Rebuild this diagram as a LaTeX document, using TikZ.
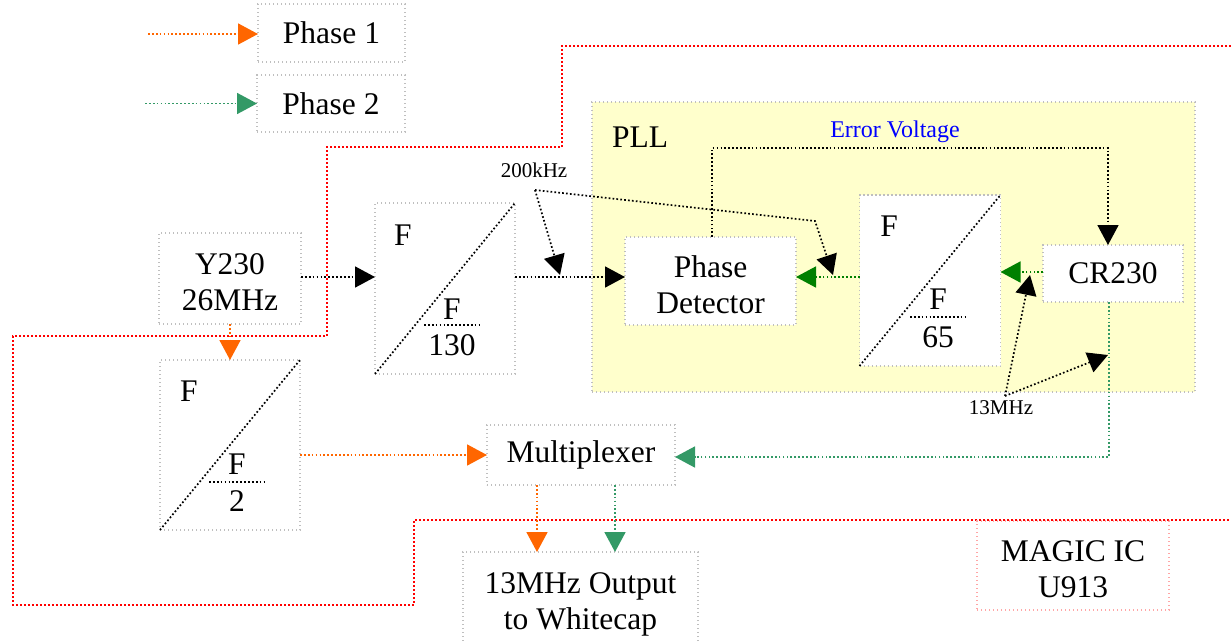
\documentclass[tikz,border=0pt]{standalone}
\usepackage{fontspec}
\setmainfont{Liberation Serif}
\usetikzlibrary{arrows.meta}
\definecolor{orng}{HTML}{FF6600}
\definecolor{sgrn}{HTML}{339966}
\definecolor{dgrn}{HTML}{008000}
\definecolor{pllyel}{HTML}{FFFFCC}
\definecolor{evblue}{HTML}{0000FF}
\newcommand{\mainfs}{\fontsize{31.5}{36}\selectfont}
\begin{document}
\begin{tikzpicture}[x=1pt,y=-1pt,
 every node/.style={inner sep=0pt, outer sep=0pt},
 box/.style={draw=gray!50, line width=1.3pt, dash pattern=on 1.3pt off 2.7pt, align=center, font=\mainfs},
 wbox/.style={box, fill=white},
 intext/.style={font=\mainfs, align=center, yshift=-3.5pt},
 conn/.style={line width=1.7pt, dash pattern=on 1.7pt off 2.2pt},
 tip/.style={-{Triangle[length=20pt,width=21pt]}},
 blkarrow/.style={conn, black, tip},
 orarrow/.style={conn, orng, tip},
 sgarrow/.style={conn, sgrn, tip},
 dgarrow/.style={conn, dgrn, tip},
 redline/.style={red, line width=2pt, dash pattern=on 2pt off 2pt},
 lbl/.style={font=\mainfs},
 small/.style={font=\fontsize{21}{24}\selectfont},
]
\useasboundingbox (0,0) rectangle (1231,643);

% chip boundary
\draw[redline] (1231,46) -- (562,46) -- (562,147) -- (327,147) -- (327,336) -- (13,336) -- (13,605) -- (414,605) -- (414,520) -- (1231,520);

% PLL area
\node[draw=gray!50, fill=pllyel, line width=1.3pt, dash pattern=on 1.3pt off 2.7pt, minimum width=603pt, minimum height=290pt] (pll) at (893.5,247) {};
\node[lbl] (plllbl) at (640,137) {PLL};
\node[font=\fontsize{24}{28}\selectfont, text=evblue] (evlbl) at (895,132) {Error Voltage};

% legend
\node[box, minimum width=147pt, minimum height=58pt] (ph1) at (331.5,33) {Phase 1};
\node[box, minimum width=148pt, minimum height=57pt] (ph2) at (331,103.5) {Phase 2};
\coordinate (l1) at (148,34);
\coordinate (l2) at (145,103.5);
\draw[orarrow] (l1) -- (l1 -| ph1.west);
\draw[sgarrow] (l2) -- (ph2.west);

% blocks
\node[box, minimum width=142pt, minimum height=91pt, label={[intext]center:Y230\\26MHz}] (y230) at (230,278.5) {};
\node[box, minimum width=140pt, minimum height=171pt] (f130) at (445,288.5) {};
\node[box, minimum width=140pt, minimum height=170pt] (f2) at (230,445) {};
\node[wbox, minimum width=141pt, minimum height=171pt] (f65) at (930,280.5) {};
\node[wbox, minimum width=171pt, minimum height=88pt, label={[intext]center:Phase\\Detector}] (pd) at (710.5,281) {};
\node[wbox, minimum width=140pt, minimum height=57pt] (cr) at (1113,273.5) {CR230};
\node[box, minimum width=188pt, minimum height=60pt] (mux) at (581,455) {Multiplexer};
\node[box, minimum width=235pt, minimum height=98pt, label={[intext]center:13MHz Output\\to Whitecap}] (out) at (580.5,601) {};
\node[box, draw=red!35, minimum width=192pt, minimum height=89pt, label={[intext]center:MAGIC IC\\U913}] (magic) at (1073,565.5) {};

% divider contents
\draw[conn] (f130.south west) -- (f130.north east);
\node[lbl] (f130a) at (403,235) {F};
\node[lbl] (f130b) at (452,309) {F};
\coordinate (f130l1) at (424,325);
\coordinate (f130l2) at (480,325);
\draw[conn] (f130l1) -- (f130l2);
\node[lbl] (f130c) at (452,345) {130};

\draw[conn] (f2.south west) -- (f2.north east);
\node[lbl] (f2a) at (189,391) {F};
\node[lbl] (f2b) at (237,464) {F};
\coordinate (f2l1) at (209,482);
\coordinate (f2l2) at (265,482);
\draw[conn] (f2l1) -- (f2l2);
\node[lbl] (f2c) at (237,501) {2};

\draw[conn] (f65.south west) -- (f65.north east);
\node[lbl] (f65a) at (889,226) {F};
\node[lbl] (f65b) at (938,299) {F};
\coordinate (f65l1) at (910,317);
\coordinate (f65l2) at (966,317);
\draw[conn] (f65l1) -- (f65l2);
\node[lbl] (f65c) at (938,337) {65};

% connectors
\draw[blkarrow] (y230.east |- 0,277) -- (f130.west |- 0,277);
\draw[blkarrow] ([yshift=4pt]pd.west -| f130.east) -- ([yshift=4pt]pd.west);
\draw[orarrow] (y230.south) -- (f2.north);
\draw[orarrow] (f2.east |- mux.west) -- (mux.west);
\draw[dgarrow] ([yshift=1.5pt]cr.west) -- ([yshift=1.5pt]cr.west -| f65.east);
\draw[dgarrow] ([yshift=4pt]pd.east -| f65.west) -- ([yshift=4pt]pd.east);
\coordinate (evc) at (1108,148);
\draw[blkarrow] ([xshift=1.5pt]pd.north) |- (evc) -- ([xshift=-5pt]cr.north);
\draw[sgarrow] ([xshift=-4pt]cr.south) |- ([yshift=-2pt]mux.east);
\draw[orarrow] ([xshift=-44pt]mux.south) -- ([xshift=-43.5pt]out.north);
\draw[sgarrow] ([xshift=34pt]mux.south) -- ([xshift=34.5pt]out.north);

% 200kHz
\node[small] (k200) at (534,170) {200kHz};
\coordinate (k200a) at (535,190);
\coordinate (t1) at (560,275);
\coordinate (kbend) at (815,221);
\coordinate (t2) at (833,275);
\draw[blkarrow] (k200a) -- (t1);
\draw[blkarrow] (k200a) -- (kbend) -- (t2);

% 13MHz
\node[small] (m13) at (1001,408) {13MHz};
\coordinate (m13a) at (1005,396);
\coordinate (t3) at (1030,275);
\coordinate (t4) at (1108,355);
\draw[blkarrow] (m13a) -- (t3);
\draw[blkarrow] (m13a) -- (t4);
\end{tikzpicture}
\end{document}
